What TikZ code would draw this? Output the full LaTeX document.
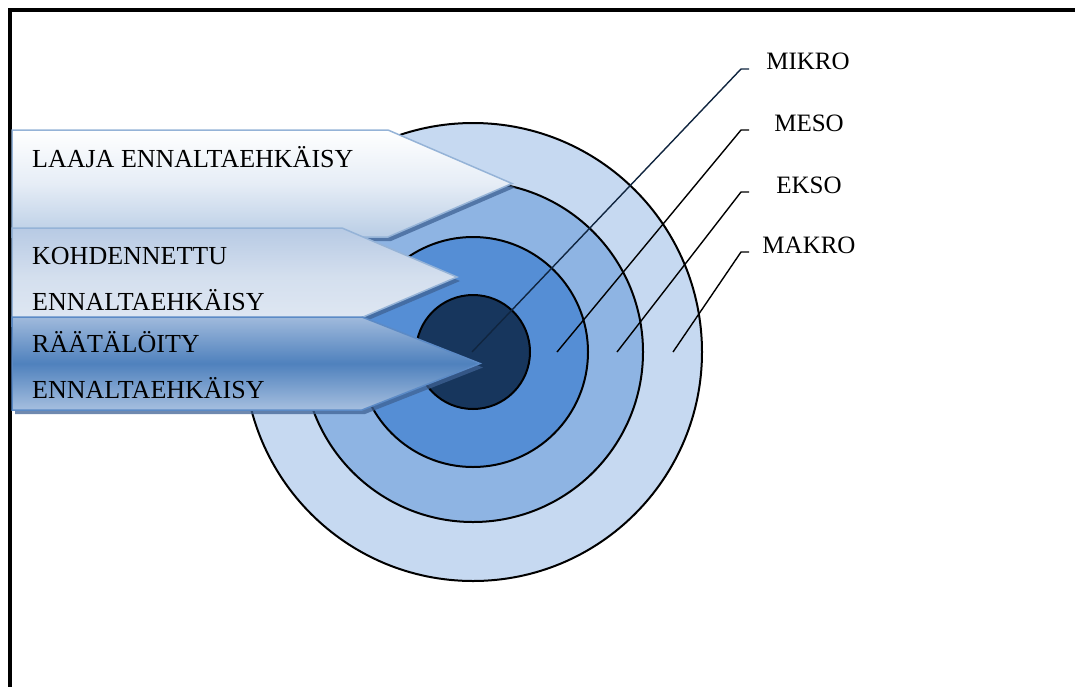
\documentclass[tikz,border=0pt]{standalone}
\usepackage{fontspec}
\setmainfont{Liberation Serif}
\definecolor{ringA}{HTML}{C6D9F1}
\definecolor{ringB}{HTML}{8EB4E3}
\definecolor{ringC}{HTML}{558ED5}
\definecolor{ringD}{HTML}{17365D}
\definecolor{edgeLight}{HTML}{95B3D7}
\definecolor{edgeDark}{HTML}{5B8AC6}
\definecolor{shadowBlue}{HTML}{3F6294}
\definecolor{navyLine}{HTML}{10253F}
\definecolor{fadeA}{HTML}{B9CDE5}
\definecolor{fadeAmid}{HTML}{E6EDF6}
\definecolor{fadeBtop}{HTML}{B7CAE4}
\definecolor{fadeBmid}{HTML}{D4DFEE}
\definecolor{fadeBbot}{HTML}{E0E8F3}
\definecolor{fadeCtop}{HTML}{A0BADC}
\definecolor{fadeCmid}{HTML}{4F81BD}
\definecolor{fadeCbot}{HTML}{A6BFDF}
\begin{document}
\begin{tikzpicture}[x=1pt,y=-1pt,
  ring/.style={draw=black,line width=2pt},
  leader/.style={draw=black,line width=1.4pt},
  chevshadow/.style={fill=shadowBlue,opacity=0.75,shift={(3,4)}},
  chevtext/.style={anchor=base west,inner sep=0pt,font=\fontsize{26}{30}\selectfont},
  levellabel/.style={anchor=base,inner sep=0pt,font=\fontsize{25}{30}\selectfont}]
\useasboundingbox (0,0) rectangle (1075,686);

% frame (top and left edges)
\draw[line width=4pt] (10,690) -- (10,10) -- (1080,10);

% concentric rings
\coordinate (c) at (473,352);
\filldraw[ring,fill=ringA] (c) circle[radius=229];
\filldraw[ring,fill=ringB] (c) circle[radius=170];
\filldraw[ring,fill=ringC] (c) circle[radius=115];
\filldraw[ring,fill=ringD] (c) circle[radius=57];

% chevron 1: broad prevention
\fill[chevshadow] (12,130) -- (388,130) -- (512,183.5) -- (388,237) -- (12,237) -- cycle;
\shade[top color=white,bottom color=fadeA,middle color=fadeAmid]
  (12,130) -- (388,130) -- (512,183.5) -- (388,237) -- (12,237) -- cycle;
\draw[edgeLight,line width=1.5pt]
  (12,130) -- (388,130) -- (512,183.5) -- (388,237) -- (12,237) -- cycle;

% chevron 2: targeted prevention
\fill[chevshadow] (12,228) -- (342,228) -- (457,277) -- (342,326) -- (12,326) -- cycle;
\shade[top color=fadeBtop,bottom color=fadeBbot,middle color=fadeBmid]
  (12,228) -- (342,228) -- (457,277) -- (342,326) -- (12,326) -- cycle;
\draw[edgeLight,line width=1.5pt]
  (12,228) -- (342,228) -- (457,277) -- (342,326) -- (12,326) -- cycle;

% chevron 3: tailored prevention
\fill[chevshadow] (12,317) -- (362,317) -- (480,363.5) -- (362,410) -- (12,410) -- cycle;
\shade[top color=fadeCtop,bottom color=fadeCbot,middle color=fadeCmid]
  (12,317) -- (362,317) -- (480,363.5) -- (362,410) -- (12,410) -- cycle;
\draw[edgeDark,line width=1.5pt]
  (12,317) -- (362,317) -- (480,363.5) -- (362,410) -- (12,410) -- cycle;

% chevron texts
\node[chevtext] (laaja) at (32,167) {LAAJA ENNALTAEHKÄISY};
\node[chevtext] (kohd1) at (32,264) {KOHDENNETTU};
\node[chevtext] (kohd2) at (32,310) {ENNALTAEHKÄISY};
\node[chevtext] (raat1) at (32,352) {RÄÄTÄLÖITY};
\node[chevtext] (raat2) at (32,398) {ENNALTAEHKÄISY};

% level labels
\node[levellabel] (mikro) at (808,69) {MIKRO};
\node[levellabel] (meso)  at (809,131) {MESO};
\node[levellabel] (ekso)  at (809,193) {EKSO};
\node[levellabel] (makro) at (809,253) {MAKRO};

% leader line anchor points
\coordinate (mikroIn) at (472,352);
\coordinate (mikroBend) at (741,69);
\coordinate (mikroTip) at (749,69);
\coordinate (mesoIn) at (557,352);
\coordinate (mesoBend) at (741,130);
\coordinate (mesoTip) at (749,130);
\coordinate (eksoIn) at (617,352);
\coordinate (eksoBend) at (741,192);
\coordinate (eksoTip) at (749,192);
\coordinate (makroIn) at (673,352);
\coordinate (makroBend) at (741,252);
\coordinate (makroTip) at (749,252);

\draw[leader,draw=navyLine] (mikroIn) -- (mikroBend) -- (mikroTip);
\draw[leader] (mesoIn) -- (mesoBend) -- (mesoTip);
\draw[leader] (eksoIn) -- (eksoBend) -- (eksoTip);
\draw[leader] (makroIn) -- (makroBend) -- (makroTip);
\end{tikzpicture}
\end{document}
